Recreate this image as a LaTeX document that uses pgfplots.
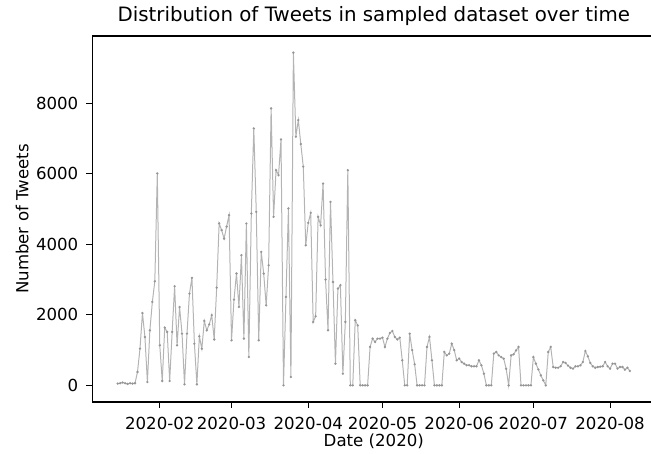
\documentclass[border=0pt]{standalone}
\usepackage{fontspec}
\setmainfont{DejaVu Sans}
\usepackage{pgfplots}
\pgfplotsset{compat=1.18}
\usepackage{pgfplotstable}
\definecolor{linegray}{RGB}{180,180,180}
\definecolor{markgray}{RGB}{150,150,150}
\pgfplotstableread{
day count
15 50
16 60
17 80
18 60
19 40
20 60
21 50
22 60
23 380
24 1040
25 2050
26 1370
27 95
28 1560
29 2365
30 2950
31 6007
32 1135
33 123
34 1637
35 1514
36 123
37 1514
38 2810
39 1135
40 2220
41 1466
42 28
43 1466
44 2600
45 3046
46 1180
47 28
48 1390
49 1040
50 1825
51 1560
52 1730
53 1990
54 1300
55 2770
56 4590
57 4400
58 4160
59 4500
60 4825
61 1277
62 2431
63 3170
64 2223
65 3690
66 1324
67 4588
68 804
69 4872
70 7284
71 4919
72 1277
73 3784
74 3170
75 2270
76 3405
77 7852
78 4777
79 6100
80 5960
81 6972
82 0
83 2507
84 5014
85 236
86 9432
87 7048
88 7520
89 6840
90 6200
91 3970
92 4607
93 4890
94 1797
95 1960
96 4777
97 4540
98 5720
99 3000
100 1560
101 5200
102 2930
103 615
104 2743
105 2840
106 330
107 1800
108 6100
109 0
110 0
111 1845
112 1700
113 0
114 0
115 0
116 0
117 1090
118 1325
119 1230
120 1325
121 1324
122 1353
123 1088
124 1324
125 1485
126 1540
127 1372
128 1300
129 1353
130 710
131 0
132 0
133 1466
134 1000
135 600
136 0
137 0
138 0
139 0
140 1088
141 1372
142 710
143 0
144 0
145 0
146 0
147 946
148 850
149 900
150 1180
151 1000
152 710
153 760
154 660
155 615
156 570
157 570
158 540
159 540
160 540
161 710
162 567
163 330
164 0
165 0
166 0
167 900
168 946
169 850
170 800
171 757
172 470
173 0
174 850
175 880
176 990
177 1090
178 0
179 0
180 0
181 0
182 0
183 800
184 615
185 450
186 284
187 140
188 0
189 946
190 1088
191 520
192 500
193 500
194 540
195 662
196 634
197 560
198 500
199 473
200 540
201 540
202 567
203 662
204 975
205 823
206 634
207 540
208 500
209 520
210 530
211 540
212 662
213 540
214 473
215 615
216 615
217 473
218 520
219 520
220 445
221 500
222 407
}\tweets
\begin{document}
\begin{tikzpicture}
\begin{axis}[
  scale only axis,
  width=563.4bp, height=366bp,
  xmin=4.65, xmax=232.35,
  ymin=-472, ymax=9904,
  xtick={32,61,92,122,153,183,214},
  xticklabels={2020-02,2020-03,2020-04,2020-05,2020-06,2020-07,2020-08},
  ytick={0,2000,4000,6000,8000},
  scaled y ticks=false,
  /pgf/number format/assume math mode=true,
  yticklabel={\pgfmathprintnumber[fixed,1000 sep={}]{\tick}},
  tick align=outside,
  major tick length=5.8bp,
  xtick pos=bottom, ytick pos=left,
  every tick/.style={black, line width=1.1bp},
  axis line style={black, line width=1.1bp},
  tick label style={font=\fontsize{16.6bp}{19bp}\selectfont, inner sep=0pt},
  xticklabel style={yshift=-9bp},
  yticklabel style={xshift=-7.8bp},
  title={Distribution of Tweets in sampled dataset over time},
  title style={at={(axis description cs:0.5,1.02459)}, anchor=base, inner sep=0pt, font=\fontsize{19.8bp}{23bp}\selectfont},
  xlabel={Date (2020)},
  xlabel style={at={(axis description cs:0.5,-0.12022)}, anchor=base, inner sep=0pt, font=\fontsize{16.6bp}{19bp}\selectfont},
  ylabel={Number of Tweets},
  ylabel style={at={(axis description cs:-0.11324,0.5)}, anchor=base, inner sep=0pt, font=\fontsize{16.6bp}{19bp}\selectfont},
  clip=false,
]
\addplot[color=linegray, line width=1.0bp, mark=*, mark size=0.6bp, mark options={draw=markgray, fill=markgray}] table[x=day, y=count] {\tweets};
\end{axis}
\pgfresetboundingbox
\useasboundingbox (-92.1bp,-52bp) rectangle (558.9bp,402bp);
\end{tikzpicture}
\end{document}
